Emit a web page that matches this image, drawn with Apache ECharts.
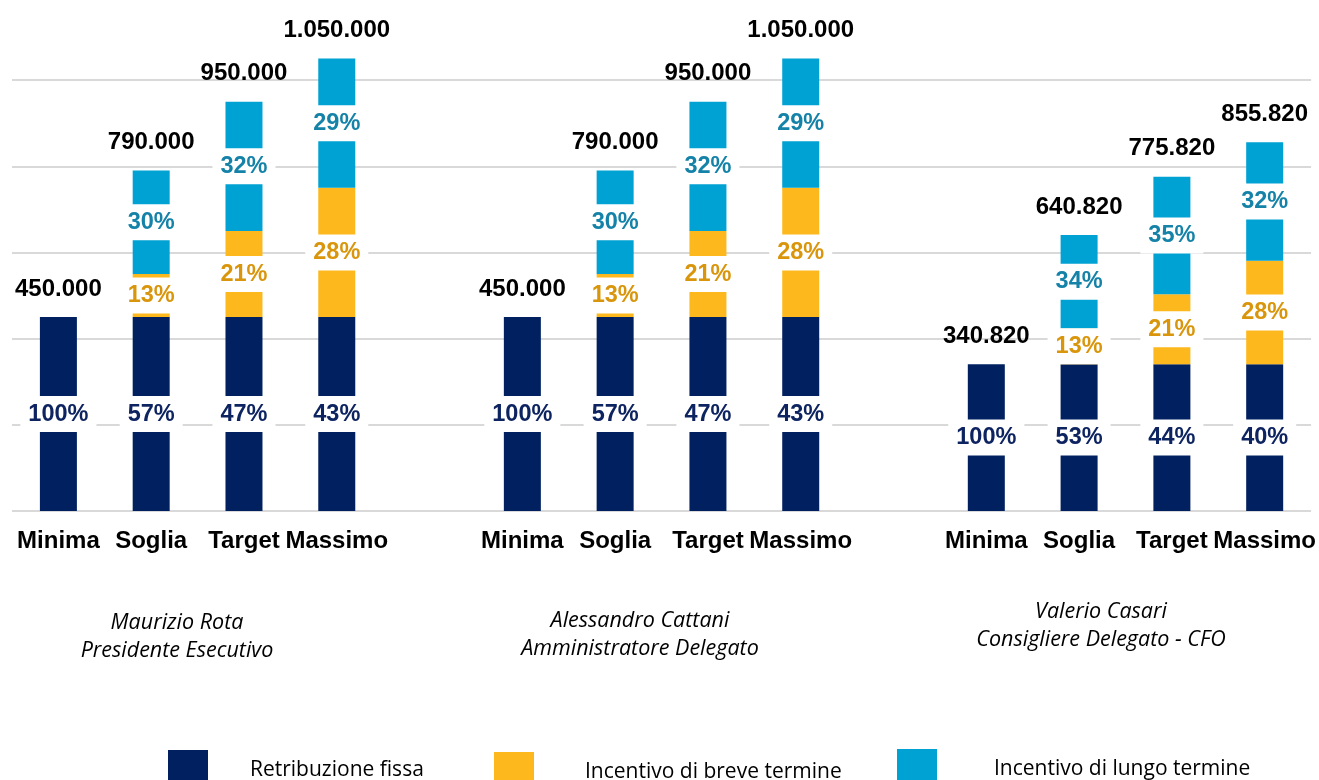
<!DOCTYPE html>
<html>
<head>
<meta charset="utf-8">
<script src="https://cdn.jsdelivr.net/npm/echarts@6/dist/echarts.min.js"></script>
<style>
  html, body { margin: 0; padding: 0; background: #fff; }
  #chart { width: 1319px; height: 780px; }
</style>
</head>
<body>
<div id="chart"></div>
<script>
// categorie (gli spazi vuoti separano i tre manager)
var categorie = ['Minima', 'Soglia', 'Target', 'Massimo', '',
                 'Minima', 'Soglia', 'Target', 'Massimo', '',
                 'Minima', 'Soglia', 'Target', 'Massimo'];

var fissa = [450000, 450000, 450000, 450000, 0,
             450000, 450000, 450000, 450000, 0,
             340820, 340820, 340820, 340820];
var breve = [0, 100000, 200000, 300000, 0,
             0, 100000, 200000, 300000, 0,
             0, 83000, 162000, 240000];
var lungo = [0, 240000, 300000, 300000, 0,
             0, 240000, 300000, 300000, 0,
             0, 217000, 273000, 275000];
var totali = [450000, 790000, 950000, 1050000, 0,
              450000, 790000, 950000, 1050000, 0,
              340820, 640820, 775820, 855820];

var pctFissa = ['100%', '57%', '47%', '43%', '', '100%', '57%', '47%', '43%', '', '100%', '53%', '44%', '40%'];
var pctBreve = ['', '13%', '21%', '28%', '', '', '13%', '21%', '28%', '', '', '13%', '21%', '28%'];
var pctLungo = ['', '30%', '32%', '29%', '', '', '30%', '32%', '29%', '', '', '34%', '35%', '32%'];

// linee orizzontali della griglia
var gridValori = [0, 200000, 400000, 600000, 800000, 1000000];
var yMax = 1186000;

var manager = [
  {nome: 'Maurizio Rota\nPresidente Esecutivo', x: 177, y: 609},
  {nome: 'Alessandro Cattani\nAmministratore Delegato', x: 640, y: 607},
  {nome: 'Valerio Casari\nConsigliere Delegato - CFO', x: 1101, y: 598}
];

var NAVY = '#002060', ORANGE = '#FDB81E', BLUE = '#00A1D3';

function fmtNum(v) {
  return String(v).replace(/\B(?=(\d{3})+(?!\d))/g, '.');
}
function noZero(arr) {
  return arr.map(function (v) { return v ? v : null; });
}
function pctLabel(arr, color) {
  return {
    show: true,
    position: 'inside',
    formatter: function (p) { return arr[p.dataIndex]; },
    color: color,
    fontFamily: 'Liberation Sans, Arial',
    fontWeight: 'bold',
    fontSize: 23.5,
    backgroundColor: '#fff',
    padding: [6, 8, 6, 8]
  };
}
function legenda(nome, left, top, pad) {
  return {
    data: [nome], left: left, top: top, padding: 0,
    icon: 'rect', itemWidth: 40, itemHeight: 40, selectedMode: false,
    textStyle: {fontFamily: 'Open Sans', fontSize: 21, color: '#000', padding: pad}
  };
}

var chart = echarts.init(document.getElementById('chart'));

var option = {
  animation: false,
  grid: {left: 12, right: 7, top: 0, bottom: 269, containLabel: false},
  xAxis: {
    type: 'category',
    data: categorie,
    axisLine: {show: false},
    axisTick: {show: false},
    axisLabel: {
      interval: 0,
      margin: 18,
      color: '#000',
      fontFamily: 'Liberation Sans, Arial',
      fontWeight: 'bold',
      fontSize: 24
    }
  },
  yAxis: {
    type: 'value',
    min: 0,
    max: yMax,
    axisLabel: {show: false},
    axisLine: {show: false},
    axisTick: {show: false},
    splitLine: {show: false}
  },
  legend: [
    legenda('Retribuzione fissa', 168, 750, [4, 0, 0, 37]),
    legenda('Incentivo di breve termine', 494, 752, [4, 0, 0, 46]),
    legenda('Incentivo di lungo termine', 897, 749, [0, 0, 12, 52])
  ],
  graphic: manager.map(function (m) {
    return {
      type: 'text',
      x: m.x, y: m.y,
      style: {
        text: m.nome,
        textAlign: 'center', align: 'center',
        textVerticalAlign: 'top', verticalAlign: 'top',
        fontFamily: 'Open Sans', fontStyle: 'italic', fontSize: 21.5,
        lineHeight: 28,
        fill: '#000'
      }
    };
  }),
  series: [
    {
      name: 'Retribuzione fissa', type: 'bar', stack: 'tot',
      barWidth: 37, barGap: '-100%',
      itemStyle: {color: NAVY},
      label: pctLabel(pctFissa, '#0E2461'),
      markLine: {
        silent: true,
        z: 1,
        symbol: ['none', 'none'],
        label: {show: false},
        lineStyle: {color: '#d9d9d9', width: 2, type: 'solid'},
        data: gridValori.map(function (v) { return {yAxis: v}; })
      },
      data: noZero(fissa)
    },
    {
      name: 'Incentivo di breve termine', type: 'bar', stack: 'tot',
      barWidth: 37, barGap: '-100%',
      itemStyle: {color: ORANGE},
      label: pctLabel(pctBreve, '#D9960C'),
      data: noZero(breve)
    },
    {
      name: 'Incentivo di lungo termine', type: 'bar', stack: 'tot',
      barWidth: 37, barGap: '-100%',
      itemStyle: {color: BLUE},
      label: pctLabel(pctLungo, '#1582A8'),
      data: noZero(lungo)
    },
    {
      name: 'Totale', type: 'bar',
      barWidth: 37, barGap: '-100%',
      itemStyle: {color: 'rgba(0,0,0,0)'},
      label: {
        show: true,
        position: 'top',
        distance: 16,
        formatter: function (p) { return fmtNum(p.value); },
        color: '#000',
        fontFamily: 'Liberation Sans, Arial',
        fontWeight: 'bold',
        fontSize: 24
      },
      data: noZero(totali)
    }
  ]
};

chart.setOption(option);
</script>
</body>
</html>
